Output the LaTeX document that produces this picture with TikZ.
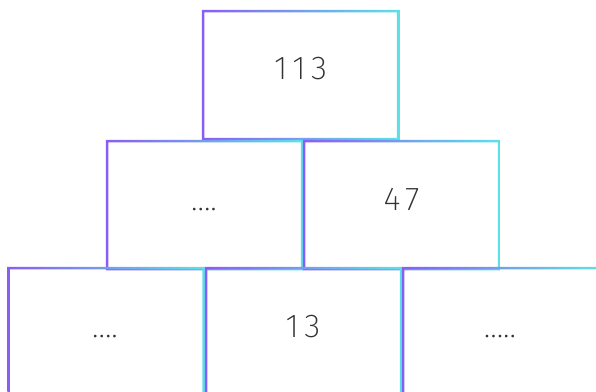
\documentclass[tikz,border=0pt]{standalone}
\usepackage{fontspec}
\newfontfamily\thinfont{Fira Sans ExtraLight}
\usetikzlibrary{calc}
\definecolor{vp}{HTML}{8A5CF6}
\definecolor{vc}{HTML}{5CE1E6}
\definecolor{txt}{HTML}{333333}
\tikzset{
  brick/.style={minimum width=195pt, minimum height=128pt, inner sep=0pt, outer sep=0pt},
  num/.style={anchor=base, inner sep=0pt, text=txt, font=\thinfont\fontsize{33}{33}\selectfont},
  digits/.style={num, font=\thinfont\fontsize{33}{33}\selectfont\addfontfeature{LetterSpace=16}},
}
\begin{document}
\begin{tikzpicture}[x=1pt,y=-1pt]
\useasboundingbox (0,0) rectangle (596,391);
\clip (0,0) rectangle (596,391);
\node[brick] (A) at (300.5,75) {};
\node[brick] (B) at (204.5,205) {};
\node[brick] (C) at (401.5,205) {};
\node[brick] (D) at (106,332) {};
\node[brick] (E) at (303.5,332) {};
\node[brick] (F) at (500.5,332) {};
\foreach \n in {A,B,C,D,E,F}{
  \shade[left color=vp, right color=vc, even odd rule]
    ($(\n.south west)+(-1.25pt,-1.25pt)$) rectangle ($(\n.north east)+(1.25pt,1.25pt)$)
    ($(\n.south west)+(1.25pt,1.25pt)$) rectangle ($(\n.north east)+(-1.25pt,-1.25pt)$);
}
\node[digits] (tA) at (300.5,79) {113};
\node[num] (tB) at (204,210) {....};
\node[digits] (tC) at (401.5,210) {47};
\node[num] (tD) at (105,337) {....};
\node[digits] (tE) at (303,337) {13};
\node[num] (tF) at (500,337) {.....};
\end{tikzpicture}
\end{document}
